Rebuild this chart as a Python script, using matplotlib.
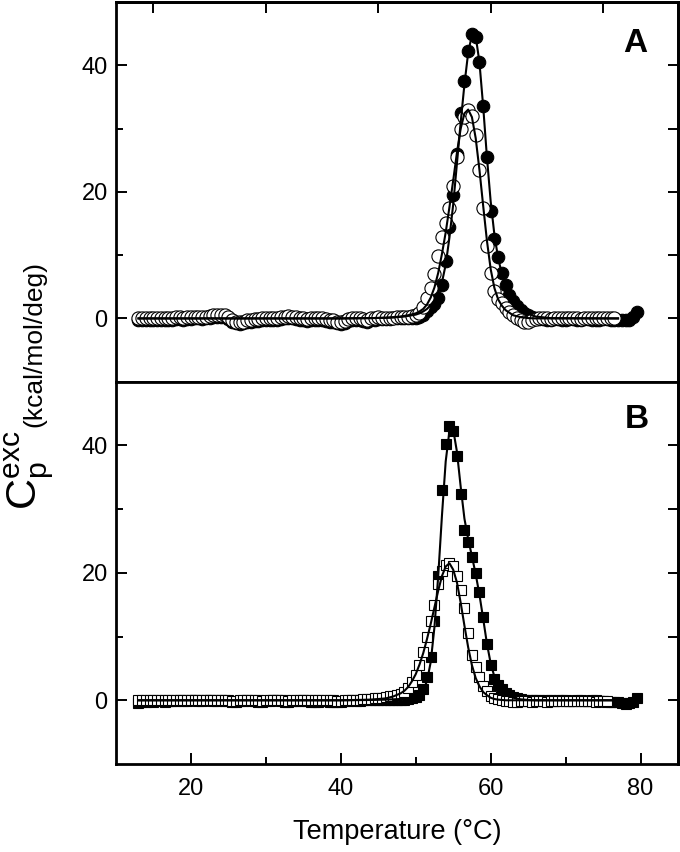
import matplotlib
matplotlib.use('Agg')
import matplotlib.pyplot as plt

plt.rcParams['font.family'] = ['Liberation Sans', 'DejaVu Sans']
plt.rcParams['mathtext.fontset'] = 'custom'
plt.rcParams['mathtext.rm'] = 'Liberation Sans'

# scan temperatures (deg C), one point every 0.5 deg
temps = [13.0, 13.5, 14.0, 14.5, 15.0, 15.5, 16.0, 16.5, 17.0, 17.5, 18.0, 18.5,
         19.0, 19.5, 20.0, 20.5, 21.0, 21.5, 22.0, 22.5, 23.0, 23.5, 24.0, 24.5,
         25.0, 25.5, 26.0, 26.5, 27.0, 27.5, 28.0, 28.5, 29.0, 29.5, 30.0, 30.5,
         31.0, 31.5, 32.0, 32.5, 33.0, 33.5, 34.0, 34.5, 35.0, 35.5, 36.0, 36.5,
         37.0, 37.5, 38.0, 38.5, 39.0, 39.5, 40.0, 40.5, 41.0, 41.5, 42.0, 42.5,
         43.0, 43.5, 44.0, 44.5, 45.0, 45.5, 46.0, 46.5, 47.0, 47.5, 48.0, 48.5,
         49.0, 49.5, 50.0, 50.5, 51.0, 51.5, 52.0, 52.5, 53.0, 53.5, 54.0, 54.5,
         55.0, 55.5, 56.0, 56.5, 57.0, 57.5, 58.0, 58.5, 59.0, 59.5, 60.0, 60.5,
         61.0, 61.5, 62.0, 62.5, 63.0, 63.5, 64.0, 64.5, 65.0, 65.5, 66.0, 66.5,
         67.0, 67.5, 68.0, 68.5, 69.0, 69.5, 70.0, 70.5, 71.0, 71.5, 72.0, 72.5,
         73.0, 73.5, 74.0, 74.5, 75.0, 75.5, 76.0, 76.5, 77.0, 77.5, 78.0, 78.5,
         79.0, 79.5]

# panel A, filled circles (13.0 - 79.5)
cp_a_filled = [-0.3, -0.3, -0.2, -0.3, -0.3, -0.2, -0.2, -0.3, -0.2, -0.2, -0.1, -0.1,
               -0.2, -0.1, -0.1, 0.0, 0.0, -0.1, 0.0, 0.1, 0.2, 0.3, 0.3, 0.2,
               -0.1, -0.5, -0.8, -0.9, -0.8, -0.6, -0.5, -0.4, -0.4, -0.3, -0.3, -0.3,
               -0.2, -0.2, -0.1, 0.0, 0.1, 0.0, -0.1, -0.2, -0.3, -0.4, -0.3, -0.2,
               -0.2, -0.3, -0.4, -0.5, -0.6, -0.8, -0.9, -0.7, -0.4, -0.2, -0.2, -0.3,
               -0.4, -0.5, -0.3, -0.2, -0.1, -0.1, -0.1, -0.1, 0.0, 0.0, 0.0, 0.0,
               0.0, 0.1, 0.1, 0.3, 0.6, 1.1, 1.8, 2.3, 3.2, 5.3, 9.0, 14.5,
               19.5, 26.0, 32.5, 37.5, 42.3, 45.0, 44.5, 40.5, 33.5, 25.5, 17.0, 12.5,
               9.7, 7.2, 5.3, 3.7, 2.8, 2.0, 1.3, 0.9, 0.5, 0.2, 0.0, -0.1,
               -0.1, -0.2, -0.2, -0.1, -0.1, -0.2, -0.2, -0.1, -0.1, -0.2, -0.2, -0.1,
               -0.1, -0.2, -0.2, -0.2, -0.1, -0.1, -0.2, -0.2, -0.3, -0.3, -0.2, -0.2,
               0.2, 1.0]

# panel A, open circles (13.0 - 76.5)
cp_a_open = [0.0, 0.0, 0.1, 0.0, 0.0, 0.1, 0.1, 0.0, 0.1, 0.1, 0.2, 0.2,
             0.1, 0.2, 0.2, 0.3, 0.3, 0.2, 0.3, 0.4, 0.5, 0.6, 0.6, 0.5,
             0.2, -0.2, -0.5, -0.6, -0.5, -0.3, -0.2, -0.1, -0.1, 0.0, 0.0, 0.0,
             0.1, 0.1, 0.2, 0.3, 0.4, 0.3, 0.2, 0.1, 0.0, -0.1, 0.0, 0.1,
             0.1, 0.0, -0.1, -0.2, -0.3, -0.5, -0.6, -0.4, -0.1, 0.1, 0.1, 0.0,
             -0.1, -0.2, 0.0, 0.1, 0.2, 0.1, 0.1, 0.1, 0.1, 0.2, 0.2, 0.2,
             0.3, 0.4, 0.5, 0.9, 1.8, 3.2, 4.8, 7.0, 9.8, 12.8, 15.0, 17.5,
             21.0, 25.5, 30.0, 31.8, 32.9, 32.0, 29.0, 23.5, 17.5, 11.5, 7.2, 4.3,
             3.1, 2.4, 1.7, 1.0, 0.5, 0.1, -0.3, -0.6, -0.5, -0.3, -0.1, 0.0,
             0.1, 0.0, -0.1, 0.0, 0.1, 0.1, 0.0, 0.0, 0.1, 0.0, -0.1, 0.0,
             0.1, 0.1, 0.0, 0.0, 0.1, 0.0, 0.0, 0.0]

# panel B, filled squares (13.0 - 79.5)
cp_b_filled = [-0.4, -0.2, -0.2, -0.1, -0.2, -0.1, -0.1, -0.2, -0.1, -0.1, -0.1, 0.0,
               -0.1, -0.1, 0.0, 0.0, -0.1, -0.1, 0.0, 0.0, -0.1, -0.1, 0.0, -0.1,
               -0.1, -0.2, -0.2, -0.1, -0.1, 0.0, -0.1, -0.1, -0.2, -0.2, -0.1, -0.1,
               0.0, 0.0, -0.1, -0.2, -0.2, -0.1, -0.1, -0.1, 0.0, -0.1, -0.2, -0.2,
               -0.2, -0.1, -0.1, -0.2, -0.3, -0.3, -0.2, -0.1, -0.1, 0.0, -0.1, -0.1,
               0.0, 0.0, 0.0, 0.0, 0.1, 0.0, 0.0, 0.1, 0.1, 0.1, 0.1, 0.1,
               0.2, 0.3, 0.5, 0.9, 1.8, 3.6, 6.8, 12.5, 19.5, 33.0, 40.3, 43.0,
               42.2, 38.3, 32.3, 26.8, 24.9, 22.5, 20.0, 17.0, 13.0, 8.8, 5.5, 3.3,
               2.4, 1.8, 1.2, 0.8, 0.5, 0.3, 0.2, 0.1, 0.1, 0.0, 0.0, 0.0,
               -0.1, 0.0, 0.0, -0.1, 0.0, 0.0, 0.0, -0.1, -0.1, 0.0, 0.0, -0.1,
               -0.1, 0.0, 0.0, -0.1, -0.1, -0.2, -0.2, -0.2, -0.3, -0.5, -0.6, -0.5,
               -0.3, 0.3]

# panel B, open squares (13.0 - 75.5)
cp_b_open = [0.0, 0.1, 0.1, 0.1, 0.0, 0.1, 0.1, 0.1, 0.0, 0.0, 0.1, 0.1,
             0.1, 0.0, 0.0, 0.1, 0.1, 0.0, 0.0, 0.0, 0.1, 0.0, 0.0, 0.0,
             0.0, -0.1, -0.1, 0.0, 0.0, 0.0, 0.1, 0.0, 0.0, -0.1, 0.0, 0.0,
             0.1, 0.1, 0.0, 0.0, -0.1, 0.0, 0.0, 0.1, 0.1, 0.0, 0.0, 0.0,
             0.0, 0.0, 0.1, 0.0, 0.0, -0.1, -0.1, 0.0, 0.1, 0.1, 0.1, 0.1,
             0.2, 0.2, 0.2, 0.3, 0.3, 0.4, 0.5, 0.6, 0.7, 0.8, 1.0, 1.3,
             1.9, 2.8, 4.0, 5.5, 7.5, 10.0, 12.5, 15.0, 18.3, 20.3, 21.3, 21.5,
             21.0, 19.5, 17.3, 14.5, 10.5, 7.1, 5.2, 3.6, 2.3, 1.4, 0.7, 0.4,
             0.2, 0.0, -0.1, -0.1, -0.2, -0.2, -0.1, -0.1, -0.1, -0.2, -0.1, -0.1,
             -0.1, -0.2, -0.1, -0.1, -0.1, -0.1, -0.1, -0.1, -0.1, -0.1, -0.1, -0.1,
             -0.1, -0.1, -0.2, -0.1, -0.1, -0.1]

# fitted curves
fit_t = [13, 40, 44, 46, 47, 48, 48.5, 49, 49.5, 50, 50.5, 51, 51.5, 52, 52.5, 53,
         53.5, 54, 54.5, 55, 55.5, 56, 56.5, 57, 57.5, 58, 58.5, 59, 59.5, 60,
         60.5, 61, 61.5, 62, 63, 64, 65, 66, 68, 77]
fit_a_filled = [0, 0, 0.05, 0.1, 0.15, 0.25, 0.3, 0.4, 0.5, 0.6, 0.8, 1.1, 1.5, 2.1,
                2.9, 4.0, 5.7, 8.5, 12.8, 18.0, 24.5, 31.0, 37.0, 42.0, 44.8, 44.6,
                40.5, 33.5, 25.5, 18.5, 13.2, 9.5, 7.0, 5.2, 2.9, 1.5, 0.7, 0.3, 0.05, 0]
fit_a_open = [0, 0, 0.05, 0.1, 0.2, 0.3, 0.4, 0.5, 0.65, 0.8, 1.1, 1.5, 2.2, 3.3,
              4.9, 7.2, 10.2, 13.6, 17.6, 21.8, 26.2, 30.0, 32.4, 33.0, 31.8, 28.5,
              23.5, 17.8, 12.3, 7.8, 4.8, 3.0, 2.0, 1.3, 0.5, 0.2, 0.05, 0, 0, 0]
fit_b_filled = [0, 0, 0.05, 0.1, 0.15, 0.2, 0.25, 0.3, 0.4, 0.6, 0.9, 1.6, 3.0, 6.0,
                11.5, 19.5, 29.0, 37.5, 42.3, 42.5, 39.0, 33.5, 28.5, 25.3, 22.6, 19.8,
                16.6, 12.8, 8.9, 5.8, 3.7, 2.4, 1.6, 1.0, 0.4, 0.15, 0.05, 0, 0, 0]
fit_b_open = [0, 0, 0.1, 0.3, 0.6, 1.1, 1.5, 2.1, 3.0, 4.1, 5.6, 7.4, 9.6, 12.0,
              14.6, 17.2, 19.5, 21.0, 21.5, 20.5, 18.5, 15.3, 11.7, 8.3, 5.5, 3.5,
              2.2, 1.3, 0.8, 0.4, 0.2, 0.1, 0.05, 0, 0, 0, 0, 0, 0, 0]

fig = plt.figure(figsize=(6.8, 8.52), dpi=100)
W, H = 680.0, 852.0
ax_a = fig.add_axes([116/W, 1 - 381.7/H, 562/W, 379.7/H])
ax_b = fig.add_axes([116/W, 1 - 764/H, 562/W, 382.3/H])

n_a = len(cp_a_open)
n_b = len(cp_b_open)

ax_a.plot(temps, cp_a_filled, 'o', ms=9, mfc='black', mec='black', mew=0.8, zorder=2)
ax_a.plot(temps[:n_a], cp_a_open, 'o', ms=9.5, mfc='white', mec='black', mew=0.8, zorder=3)
ax_a.plot(fit_t, fit_a_filled, '-', color='black', lw=1.5, zorder=4)
ax_a.plot(fit_t, fit_a_open, '-', color='black', lw=1.5, zorder=4)

ax_b.plot(temps, cp_b_filled, 's', ms=7, mfc='black', mec='black', mew=0.8, zorder=2)
ax_b.plot(temps[:n_b], cp_b_open, 's', ms=7, mfc='white', mec='black', mew=0.8, zorder=3)
ax_b.plot(fit_t, fit_b_filled, '-', color='black', lw=1.5, zorder=4)
ax_b.plot(fit_t, fit_b_open, '-', color='black', lw=1.5, zorder=4)

for ax in (ax_a, ax_b):
    ax.set_xlim(10, 85)
    ax.set_ylim(-10, 50)
    for s in ax.spines.values():
        s.set_linewidth(2.0)
    ax.set_yticks([0, 20, 40])
    ax.set_yticks([10, 30], minor=True)
    ax.tick_params(axis='y', which='major', direction='in', length=8, width=1.4,
                   labelsize=17, pad=6)
    ax.tick_params(axis='y', which='minor', direction='in', length=5, width=1.4)
    sy = ax.secondary_yaxis('right')
    sy.set_yticks([0, 10, 20, 30, 40])
    sy.tick_params(direction='in', length=7, width=1.4, labelright=False)
    sy.spines['right'].set_linewidth(2.0)

# panel A: ticks every 15 deg, no labels
ax_a.set_xticks([15, 30, 45, 60, 75])
ax_a.tick_params(axis='x', direction='out', length=8, width=1.4, labelbottom=False)
sx = ax_a.secondary_xaxis('top')
sx.set_xticks([15, 30, 45, 60, 75])
sx.tick_params(direction='in', length=8, width=1.4, labeltop=False)
sx.spines['top'].set_linewidth(2.0)

# panel B: labelled bottom axis
ax_b.set_xticks([20, 40, 60, 80])
ax_b.set_xticks([30, 50, 70], minor=True)
ax_b.tick_params(axis='x', which='major', direction='in', length=8, width=1.4,
                 labelsize=17, pad=10)
ax_b.tick_params(axis='x', which='minor', direction='in', length=5, width=1.4)
ax_b.set_xlabel('Temperature (\u00b0C)', fontsize=19.5, labelpad=14)

ax_a.text(0.924, 0.89, 'A', transform=ax_a.transAxes, fontsize=24, fontweight='bold',
          ha='center', va='center')
ax_b.text(0.927, 0.90, 'B', transform=ax_b.transAxes, fontsize=24, fontweight='bold',
          ha='center', va='center')

# y label: C_p^exc (kcal/mol/deg), read bottom to top
fig.text(37/W, 0.495, r'$\mathrm{C_p^{exc}}$', fontsize=31, rotation=90,
         rotation_mode='anchor', ha='right', va='baseline')
fig.text(41/W, 0.499, '(kcal/mol/deg)', fontsize=19, rotation=90,
         rotation_mode='anchor', ha='left', va='baseline')

fig.savefig('out.png', dpi=100)
